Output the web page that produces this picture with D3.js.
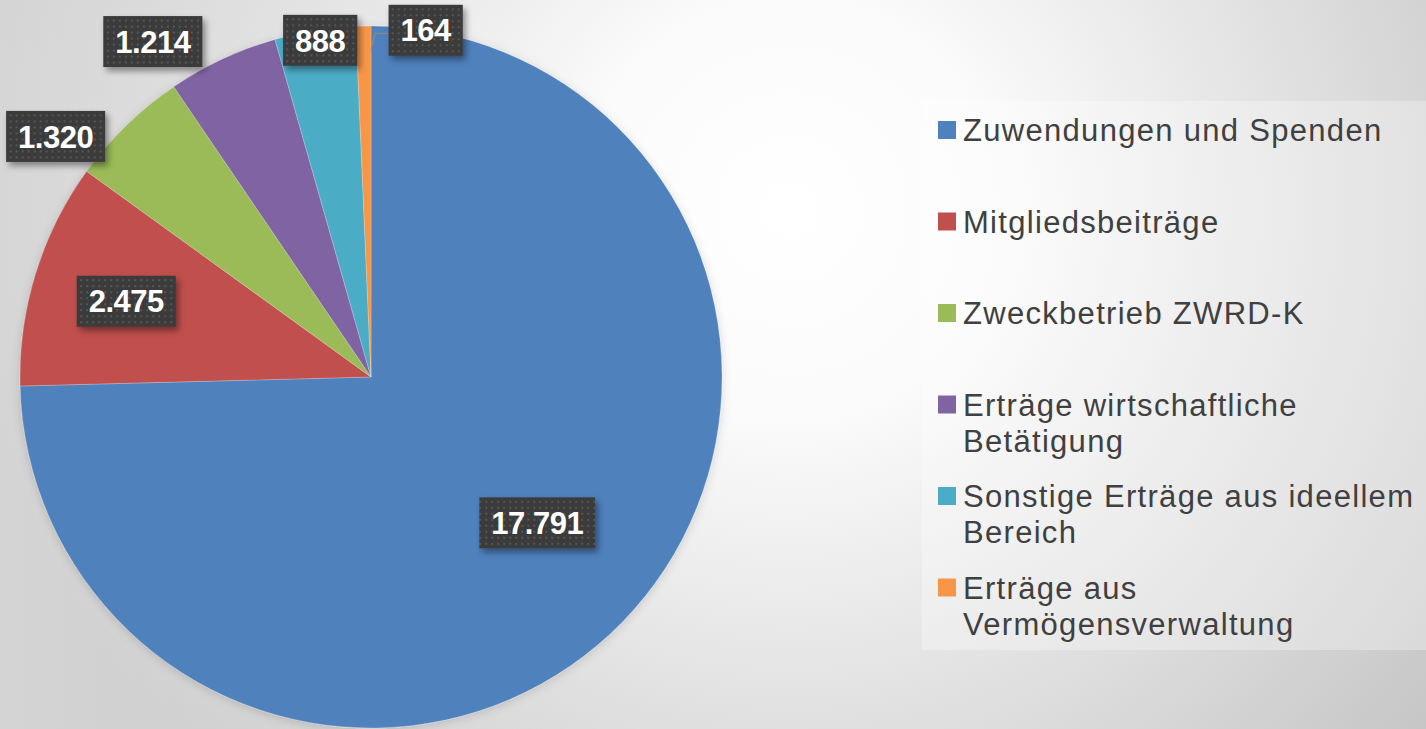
<!DOCTYPE html>
<html>
<head>
<meta charset="utf-8">
<script src="https://cdn.jsdelivr.net/npm/d3@7"></script>
<style>
  html, body { margin: 0; padding: 0; overflow: hidden; }
  #app { width: 1426px; height: 729px; }
</style>
</head>
<body>
<div id="app"></div>
<script>
'use strict'

// data
const categories = [
  'Zuwendungen und Spenden',
  'Mitgliedsbeiträge',
  'Zweckbetrieb ZWRD-K',
  'Erträge wirtschaftliche Betätigung',
  'Sonstige Erträge aus ideellem Bereich',
  'Erträge aus Vermögensverwaltung'
]
const legendLines = [
  ['Zuwendungen und Spenden'],
  ['Mitgliedsbeiträge'],
  ['Zweckbetrieb ZWRD-K'],
  ['Erträge wirtschaftliche', 'Betätigung'],
  ['Sonstige Erträge aus ideellem', 'Bereich'],
  ['Erträge aus', 'Vermögensverwaltung']
]
const values = [17791, 2475, 1320, 1214, 888, 164]
const colors = ['#4f81bd', '#c0504d', '#9bbb59', '#8064a2', '#4bacc6', '#f79646']

const width = 1426
const height = 729
const cx = 371
const cy = 377
const radius = 351

// label placement (radius factor, angle nudge in degrees)
const labelRadius = [0.63, 0.73, 1.13, 1.14, 0.97, 1.0]
const labelNudge = [-3, 0, -8.5, -8, 0.6, 10.2]

const fmt = d3.formatLocale({ decimal: ',', thousands: '.', grouping: [3], currency: ['', '€'] }).format(',d')

const svg = d3.select('#app').append('svg')
  .attr('width', width)
  .attr('height', height)

const defs = svg.append('defs')

// background gradient
const bg = defs.append('radialGradient')
  .attr('id', 'bg')
  .attr('gradientUnits', 'userSpaceOnUse')
  .attr('cx', 790).attr('cy', 210).attr('r', 820)
  .attr('fx', 790).attr('fy', 210)
bg.append('stop').attr('offset', '0%').attr('stop-color', '#ffffff')
bg.append('stop').attr('offset', '25%').attr('stop-color', '#fbfbfb')
bg.append('stop').attr('offset', '100%').attr('stop-color', '#c6c6c6')

const bgLeft = defs.append('linearGradient')
  .attr('id', 'bgLeft')
  .attr('x1', 0).attr('x2', 1).attr('y1', 0).attr('y2', 0)
bgLeft.append('stop').attr('offset', '0%').attr('stop-color', '#ffffff').attr('stop-opacity', 0.25)
bgLeft.append('stop').attr('offset', '40%').attr('stop-color', '#ffffff').attr('stop-opacity', 0)

svg.append('rect').attr('width', width).attr('height', height).attr('fill', 'url(#bg)')
svg.append('rect').attr('width', width).attr('height', height).attr('fill', 'url(#bgLeft)')

// dotted pattern for label boxes
const pat = defs.append('pattern')
  .attr('id', 'dots')
  .attr('patternUnits', 'userSpaceOnUse')
  .attr('width', 6).attr('height', 6)
pat.append('rect').attr('width', 6).attr('height', 6).attr('fill', '#3b3b3b')
pat.append('rect').attr('x', 2).attr('y', 2).attr('width', 2).attr('height', 2).attr('fill', '#565656')

// shadow filter
const shadow = defs.append('filter').attr('id', 'shadow')
  .attr('x', '-20%').attr('y', '-20%').attr('width', '150%').attr('height', '160%')
shadow.append('feDropShadow')
  .attr('dx', 3).attr('dy', 4).attr('stdDeviation', 3)
  .attr('flood-color', '#000').attr('flood-opacity', 0.4)

const pieShadow = defs.append('filter').attr('id', 'pieShadow')
  .attr('x', '-10%').attr('y', '-10%').attr('width', '120%').attr('height', '120%')
pieShadow.append('feDropShadow')
  .attr('dx', 0).attr('dy', 2).attr('stdDeviation', 5)
  .attr('flood-color', '#000').attr('flood-opacity', 0.15)

// pie
const pie = d3.pie().sort(null).value(d => d)
const arcs = pie(values)
const arc = d3.arc().innerRadius(0).outerRadius(radius)

const g = svg.append('g').attr('transform', `translate(${cx}, ${cy})`)

g.append('g').attr('filter', 'url(#pieShadow)')
  .selectAll('path')
  .data(arcs)
  .join('path')
  .attr('d', arc)
  .attr('fill', (d, i) => colors[i])
  .attr('stroke', 'rgba(255,255,255,0.35)')
  .attr('stroke-width', 0.6)

// labels
const labelPos = arcs.map((d, i) => {
  const a = (d.startAngle + d.endAngle) / 2 + labelNudge[i] * Math.PI / 180
  const r = radius * labelRadius[i]
  return [Math.sin(a) * r, -Math.cos(a) * r]
})

const labels = g.selectAll('g.lbl')
  .data(arcs)
  .join('g')
  .attr('class', 'lbl')
  .attr('transform', (d, i) => `translate(${labelPos[i][0]}, ${labelPos[i][1]})`)

const boxW = []
labels.each(function (d, i) {
  const sel = d3.select(this)
  const rect = sel.append('rect')
    .attr('fill', 'url(#dots)')
    .attr('filter', 'url(#shadow)')
  const t = sel.append('text')
    .attr('text-anchor', 'middle')
    .attr('dy', '0.36em')
    .style('font-family', '"Liberation Sans", Arial, sans-serif')
    .style('font-weight', 'bold')
    .style('font-size', '31px')
    .style('letter-spacing', '-0.5px')
    .attr('fill', '#ffffff')
    .text(fmt(values[i]))
  const w = t.node().getComputedTextLength() + 24
  boxW[i] = w
  rect.attr('x', -w / 2).attr('y', -25.5).attr('width', w).attr('height', 51)
})

// leader line for the small last slice
const last = arcs.length - 1
const endA = arcs[last].endAngle
const p0 = [Math.sin(endA) * radius * 0.93, -Math.cos(endA) * radius * 0.93]
const ly = labelPos[last][1] + 3
g.insert('path', 'g.lbl')
  .attr('d', d3.line()([p0, [p0[0] + 4, ly], [labelPos[last][0] - boxW[last] / 2, ly]]))
  .attr('fill', 'none')
  .attr('stroke', '#8a8a8a')
  .attr('stroke-width', 1.2)

// legend
const legend = svg.append('g').attr('transform', 'translate(922, 101)')
legend.append('rect')
  .attr('width', 504).attr('height', 549)
  .attr('fill', '#ffffff').attr('fill-opacity', 0.3)

const slot = d3.scaleBand().domain(d3.range(categories.length)).range([29, 29 + 91.5 * 6])

const items = legend.selectAll('g.item')
  .data(categories)
  .join('g')
  .attr('class', 'item')
  .attr('transform', (d, i) => `translate(0, ${slot(i)})`)

items.append('rect')
  .attr('x', 16).attr('y', -9)
  .attr('width', 18).attr('height', 18)
  .attr('fill', (d, i) => colors[i])

items.append('text')
  .attr('x', 41)
  .style('font-family', '"Liberation Sans", Arial, sans-serif')
  .style('font-size', '31px')
  .style('letter-spacing', '1.3px')
  .attr('fill', '#404040')
  .selectAll('tspan')
  .data((d, i) => legendLines[i])
  .join('tspan')
  .attr('x', 41)
  .attr('y', (d, j) => j * 36)
  .attr('dy', '0.36em')
  .text(d => d)
</script>
</body>
</html>
